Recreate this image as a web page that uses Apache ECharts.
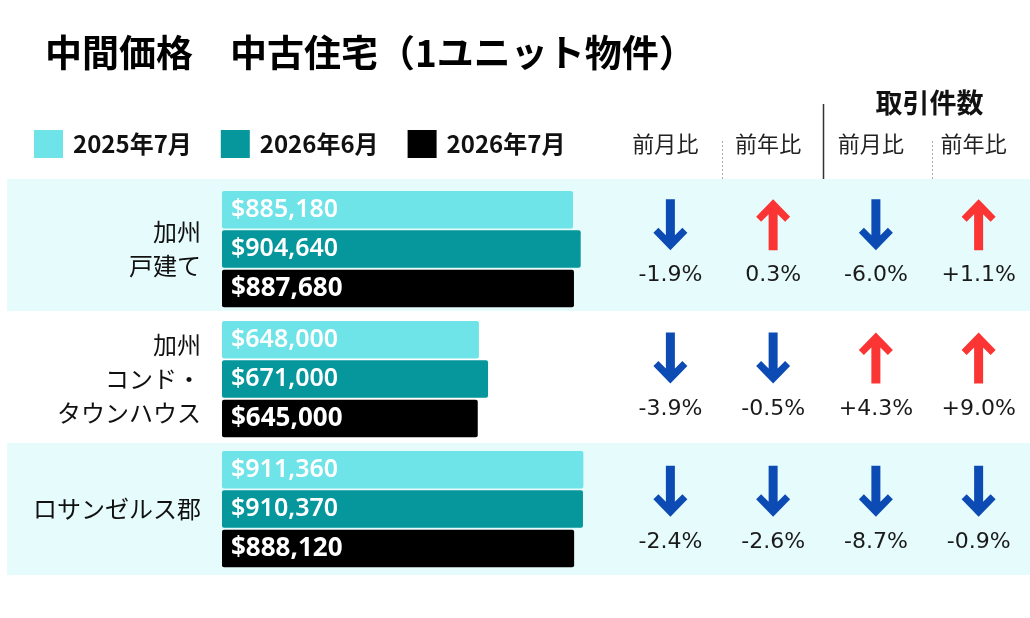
<!DOCTYPE html>
<html>
<head>
<meta charset="utf-8">
<script src="https://cdn.jsdelivr.net/npm/echarts@6/dist/echarts.min.js"></script>
<style>
  body { margin: 0; background: #fff; }
  #chart { width: 1030px; height: 618px; }
</style>
</head>
<body>
<div id="chart"></div>
<script>
// データ
let regions = ['加州\n戸建て', '加州\nコンド・\nタウンハウス', 'ロサンゼルス郡'];
let seriesNames = ['2025年7月', '2026年6月', '2026年7月'];
let price2025Jul = [885180, 648000, 911360];
let price2026Jun = [904640, 671000, 910370];
let price2026Jul = [887680, 645000, 888120];
// 変化率（中間価格 前月比・前年比、取引件数 前月比・前年比）
let columns = ['前月比', '前年比', '前月比', '前年比'];
let priceMoM = [-1.9, -3.9, -2.4];
let priceYoY = [0.3, -0.5, -2.6];
let salesMoM = [-6.0, 4.3, -8.7];
let salesYoY = [1.1, 9.0, -0.9];

let barColors = ['#6ee3e8', '#05979c', '#000000'];
let upColor = '#fb3434';
let downColor = '#0c4bb3';
// 矢印
let arrowDown = 'path://M12.5,0 L21.5,0 L21.5,36 L29,28.5 L34,33.5 L17,51 L0,33.5 L5,28.5 L12.5,36 Z';
let arrowUp = 'path://M12.5,51 L21.5,51 L21.5,15 L29,22.5 L34,17.5 L17,0 L0,17.5 L5,22.5 L12.5,15 Z';

let changeCols = [priceMoM, priceYoY, salesMoM, salesYoY];
let changeData = [];
changeCols.forEach(function (col, c) {
    col.forEach(function (v, r) {
        changeData.push({
            value: [c, r, v],
            symbol: v >= 0 ? arrowUp : arrowDown,
            itemStyle: { color: v >= 0 ? upColor : downColor, opacity: 1 }
        });
    });
});

let priceLists = [price2025Jul, price2026Jun, price2026Jul];
let barSeries = priceLists.map(function (list, i) {
    return {
        name: seriesNames[i],
        type: 'bar',
        xAxisIndex: 1,
        yAxisIndex: 1,
        data: list,
        barWidth: 37.5,
        barGap: '5%',
        itemStyle: { color: barColors[i], borderRadius: 2 },
        label: {
            show: true,
            position: 'insideLeft',
            distance: 9,
            color: '#fff',
            fontFamily: 'Noto Sans',
            fontSize: i === 2 ? 26 : 25,
            fontWeight: i === 2 ? 'bold' : 600,
            formatter: function (p) { return '$' + p.value.toLocaleString('en-US'); }
        }
    };
});

let chart = echarts.init(document.getElementById('chart'));
let option = {
    backgroundColor: '#fff',
    animation: false,
    title: {
        text: '中間価格　中古住宅（1ユニット物件）',
        left: 40,
        top: 29,
        textStyle: { fontFamily: 'Noto Sans CJK JP', fontSize: 37, fontWeight: 'bold', color: '#000' }
    },
    legend: {
        data: seriesNames,
        left: 29,
        top: 125,
        icon: 'rect',
        itemWidth: 29,
        itemHeight: 28,
        itemGap: 29,
        textStyle: {
            fontFamily: 'Noto Sans CJK JP',
            fontSize: 24,
            fontWeight: 'bold',
            color: '#111',
            padding: [0, 0, 0, 5]
        }
    },
    grid: [
        // 背景の帯
        { left: 7, right: 0, top: 179, height: 396 },
        // 棒グラフ
        { left: 222, width: 396.5, top: 184, height: 390 },
        // 変化率の表
        { left: 619, width: 415, top: 179, height: 400 }
    ],
    xAxis: [
        { gridIndex: 0, type: 'value', show: false },
        { gridIndex: 1, type: 'value', min: 0, max: 1000000, show: false },
        {
            gridIndex: 2,
            type: 'category',
            data: columns,
            position: 'top',
            axisLine: { show: false },
            axisTick: { show: false },
            axisLabel: {
                margin: 24,
                fontFamily: 'Noto Sans CJK JP',
                fontSize: 22,
                color: '#222',
                padding: [0, 10, 0, 0]
            }
        }
    ],
    yAxis: [
        {
            gridIndex: 0,
            type: 'category',
            data: regions,
            inverse: true,
            axisLine: { show: false },
            axisTick: { show: false },
            axisLabel: { show: false },
            splitArea: { show: true, areaStyle: { color: ['#e6fbfc', '#ffffff'] } }
        },
        {
            gridIndex: 1,
            type: 'category',
            data: regions,
            inverse: true,
            axisLine: { show: false },
            axisTick: { show: false },
            axisLabel: {
                margin: 21,
                align: 'right',
                fontFamily: 'Noto Sans CJK JP',
                fontSize: 24,
                lineHeight: 34,
                color: '#111'
            }
        },
        {
            gridIndex: 2,
            type: 'category',
            data: regions,
            inverse: true,
            show: false
        }
    ],
    series: barSeries.concat([{
        type: 'scatter',
        xAxisIndex: 2,
        yAxisIndex: 2,
        symbolSize: [34, 51],
        symbolOffset: [0, -21],
        itemStyle: { opacity: 1 },
        data: changeData,
        label: {
            show: true,
            position: 'inside',
            offset: [0, 51],
            fontFamily: 'DejaVu Sans',
            fontSize: 22,
            color: '#1a1a1a',
            opacity: 1,
            formatter: function (p) {
                let v = p.value[2];
                let sign = (p.value[0] >= 2 && v > 0) ? '+' : '';
                return sign + v.toFixed(1) + '%';
            }
        }
    }]),
    graphic: [
        { type: 'line', shape: { x1: 823.5, y1: 104, x2: 823.5, y2: 563 }, style: { stroke: '#333', lineWidth: 1.5 } },
        { type: 'line', shape: { x1: 722.5, y1: 141, x2: 722.5, y2: 575 }, style: { stroke: '#aaa', lineWidth: 1, lineDash: [2, 2] } },
        { type: 'line', shape: { x1: 932.5, y1: 141, x2: 932.5, y2: 575 }, style: { stroke: '#aaa', lineWidth: 1, lineDash: [2, 2] } },
        {
            type: 'text',
            x: 929.5,
            y: 102.5,
            style: {
                text: '取引件数',
                fontFamily: 'Noto Sans CJK JP',
                fontSize: 27,
                fontWeight: 'bold',
                fill: '#111',
                textAlign: 'center',
                textVerticalAlign: 'middle'
            }
        }
    ]
};
chart.setOption(option);
</script>
</body>
</html>
